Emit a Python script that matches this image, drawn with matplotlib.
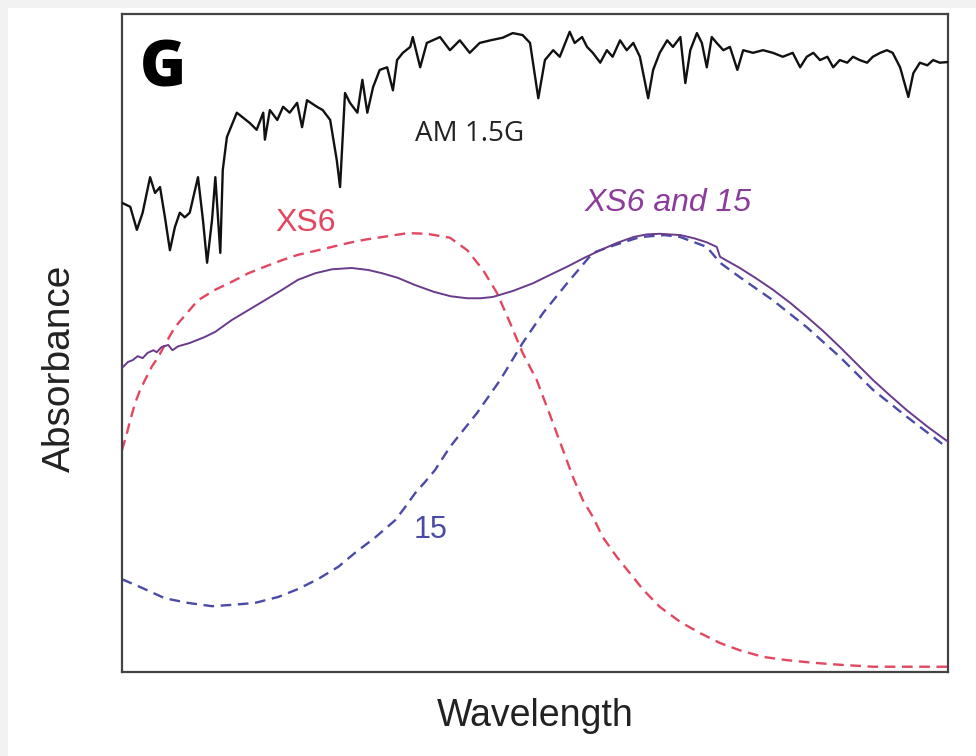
import matplotlib
matplotlib.use("Agg")
import matplotlib.pyplot as plt
from matplotlib.patches import Rectangle

# Wavelength axis: arbitrary units 0-100; absorbance: arbitrary units 0-100
am15_x = [0, 1.0, 1.8, 2.5, 3.4, 4.0, 4.6, 5.2, 5.8, 6.4, 7.0, 7.6, 8.2, 9.2, 9.8, 10.3, 10.9, 11.3, 11.9, 12.2,
          12.7, 13.9, 14.6, 15.5, 16.3, 17.1, 17.3, 17.9, 18.8, 19.5, 20.3, 21.2, 21.8, 22.4, 23.6, 24.3, 25.2, 26.0,
          26.4, 27.0, 27.6, 28.5, 29.1, 29.7, 30.4, 31.2, 32.1, 32.8, 33.3, 34.0, 34.9, 35.2, 36.1, 36.9, 38.5, 39.7,
          40.9, 42.1, 43.3, 44.6, 46.1, 47.3, 48.5, 49.4, 50.4, 51.2, 52.2, 53.0, 54.2, 54.8, 55.7, 56.3, 57.0, 57.9,
          58.7, 59.4, 60.3, 61.1, 61.9, 62.7, 63.7, 64.3, 65.1, 66.0, 66.7, 67.6, 68.2, 68.8, 69.6, 70.2, 70.8, 71.4,
          72.0, 72.8, 73.6, 74.5, 75.2, 76.4, 77.6, 78.8, 80.0, 81.2, 82.1, 82.9, 83.7, 84.5, 85.4, 86.1, 86.9, 87.8,
          88.5, 89.3, 90.2, 90.9, 91.8, 92.6, 93.3, 94.2, 95.2, 95.8, 96.6, 97.5, 98.2, 99.0, 100]
am15_y = [71.3, 70.7, 67.2, 69.8, 75.2, 72.8, 73.7, 69.1, 64.1, 67.6, 69.8, 69.1, 69.8, 75.2, 68.7, 62.2, 68.7, 75.2,
          63.7, 76.3, 81.3, 85.0, 84.3, 83.4, 82.4, 85.0, 80.9, 85.4, 83.9, 85.9, 85.0, 86.5, 82.8, 86.9, 85.9, 85.4,
          83.9, 77.8, 73.7, 88.0, 86.5, 85.0, 90.0, 85.0, 88.9, 91.5, 91.9, 88.4, 93.0, 94.1, 95.0, 96.5, 91.9, 95.6,
          96.5, 94.5, 96.0, 94.1, 95.6, 96.0, 96.4, 97.1, 96.8, 95.6, 87.2, 93.0, 94.5, 93.5, 97.3, 95.6, 96.5, 95.0,
          94.1, 92.6, 94.5, 93.5, 96.0, 94.5, 95.6, 93.5, 87.2, 91.5, 94.1, 96.0, 95.0, 96.5, 89.5, 94.5, 97.1, 95.6,
          91.9, 96.5, 95.6, 94.5, 95.0, 91.5, 94.5, 94.1, 94.5, 94.1, 93.5, 94.1, 91.9, 93.5, 94.1, 93.0, 93.5, 91.9,
          93.0, 92.6, 93.5, 93.0, 92.6, 93.5, 94.1, 94.5, 94.1, 91.9, 87.4, 91.0, 92.6, 92.2, 93.0, 92.6, 92.7]

xs6_x = [0, 0.6, 1.0, 1.6, 2.2, 2.8, 3.6, 4.4, 5.4, 6.4, 7.9, 9.2, 11.3, 13.3, 15.3, 17.3, 19.4, 21.3, 23.4, 25.4,
         27.4, 29.4, 31.5, 34.6, 36.9, 39.7, 41.8, 43.7, 45.4, 47.0, 48.5, 50.2, 51.8, 53.4, 54.6, 55.8, 57.0, 58.2,
         59.9, 61.5, 63.1, 65.1, 67.6, 70.0, 72.4, 74.8, 77.6, 80.5, 83.7, 86.9, 90.9, 95.0, 100]
xs6_y = [33.7, 36.3, 38.3, 40.9, 42.9, 44.4, 46.4, 47.9, 50.2, 52.4, 54.6, 56.5, 58.1, 59.3, 60.6, 61.6, 62.6, 63.4,
         64.0, 64.6, 65.2, 65.7, 66.1, 66.7, 66.6, 66.0, 64.1, 61.1, 57.6, 53.0, 48.5, 44.4, 39.1, 33.7, 29.6, 26.1,
         23.6, 20.5, 17.5, 15.0, 12.5, 9.9, 7.6, 5.9, 4.4, 3.3, 2.3, 1.8, 1.4, 1.1, 0.8, 0.8, 0.8]

c15_x = [0, 2.4, 5.2, 8.0, 10.9, 13.3, 16.1, 18.9, 21.3, 23.7, 26.2, 28.2, 30.6, 33.1, 34.3, 35.5, 36.7, 37.9, 39.7,
         43.0, 45.8, 48.5, 51.0, 53.9, 57.0, 59.7, 62.7, 65.7, 67.6, 70.8, 72.4, 74.8, 78.8, 82.9, 86.9, 90.9, 95.0,
         100]
c15_y = [14.1, 12.8, 11.2, 10.5, 10.0, 10.2, 10.5, 11.4, 12.6, 14.1, 16.0, 18.1, 20.4, 23.1, 25.1, 27.2, 28.9, 30.7,
         34.2, 39.4, 44.4, 50.0, 54.6, 59.1, 63.7, 64.9, 66.1, 66.4, 66.1, 64.6, 62.2, 60.0, 56.5, 52.4, 47.9, 42.9,
         38.8, 34.0]

mix_x = [0, 0.7, 1.3, 1.9, 2.5, 3.1, 3.8, 4.2, 4.8, 5.6, 6.1, 6.8, 8.2, 10.0, 11.3, 13.3, 15.3, 17.3, 19.4, 21.3,
         23.4, 25.4, 26.6, 27.8, 29.8, 31.5, 33.4, 35.5, 37.7, 39.8, 41.8, 43.4, 44.9, 47.3, 49.8, 51.9, 53.9, 55.9,
         57.9, 59.9, 61.9, 63.5, 65.1, 67.6, 69.3, 70.8, 72.0, 72.4, 74.8, 76.8, 78.8, 80.9, 82.9, 84.9, 86.9, 88.9,
         90.9, 93.0, 95.0, 97.5, 100]
mix_y = [46.2, 47.1, 47.4, 48.0, 47.7, 48.5, 48.9, 48.6, 49.4, 49.7, 48.9, 49.5, 50.0, 50.9, 51.7, 53.5, 55.0, 56.5,
         58.1, 59.6, 60.6, 61.2, 61.3, 61.4, 61.1, 60.6, 59.9, 58.8, 57.8, 57.1, 56.8, 56.8, 57.0, 57.9, 59.1, 60.4,
         61.6, 62.9, 64.1, 65.2, 66.1, 66.5, 66.6, 66.4, 65.9, 65.3, 64.6, 63.1, 61.4, 59.8, 58.1, 56.1, 54.0, 51.8,
         49.4, 46.9, 44.4, 42.0, 39.8, 37.3, 35.0]

RED = "#e2475f"
BLUE = "#4b4aa6"
PURPLE = "#6a3a8c"
PURPLE_TXT = "#8c3c9a"

W, H = 976, 756
fig = plt.figure(figsize=(W / 100, H / 100), dpi=100)
fig.patch.set_facecolor("white")
fig.add_artist(Rectangle((0, 1 - 8 / H), 1, 8 / H, transform=fig.transFigure,
                         facecolor="#f2f2f2", edgecolor="none", zorder=0))
fig.add_artist(Rectangle((0, 0), 8 / W, 1, transform=fig.transFigure,
                         facecolor="#f2f2f2", edgecolor="none", zorder=0))

ax = fig.add_axes([122 / W, 1 - 672 / H, (948 - 122) / W, (672 - 14) / H])
ax.set_xlim(0, 100)
ax.set_ylim(0, 100)
ax.set_xticks([])
ax.set_yticks([])
for s in ax.spines.values():
    s.set_color("#444444")
    s.set_linewidth(1.6)

ax.plot(am15_x, am15_y, color="#111111", lw=1.7, zorder=3)
ax.plot(xs6_x, xs6_y, color=RED, lw=1.7, dashes=(4.5, 2.8), zorder=2)
ax.plot(c15_x, c15_y, color=BLUE, lw=1.7, dashes=(4.5, 2.8), zorder=2)
ax.plot(mix_x, mix_y, color=PURPLE, lw=1.4, zorder=4)

ax.text(5.0, 91.6, "G", fontsize=45, fontweight="heavy", color="black",
        ha="center", va="center", family="Open Sans")
ax.text(42.1, 81.8, "AM 1.5G", fontsize=20, color="#222222", ha="center", va="center",
        family="Open Sans")
ax.text(22.2, 68.2, "XS6", fontsize=23, color=RED, ha="center", va="center", family="Liberation Sans")
ax.text(66.1, 71.3, "XS6 and 15", fontsize=23, color=PURPLE_TXT, ha="center", va="center",
        style="italic", family="Liberation Sans")
ax.text(37.4, 21.6, "15", fontsize=22, color=BLUE, ha="center", va="center", family="Liberation Sans")

fig.text(60 / W, 1 - 368 / H, "Absorbance", rotation=90, fontsize=28, color="#222222",
         ha="center", va="center", family="Liberation Sans")
fig.text(535 / W, 1 - 716 / H, "Wavelength", fontsize=27, color="#222222",
         ha="center", va="center", family="Liberation Sans")

fig.savefig("out.png", dpi=100, facecolor=fig.get_facecolor())
